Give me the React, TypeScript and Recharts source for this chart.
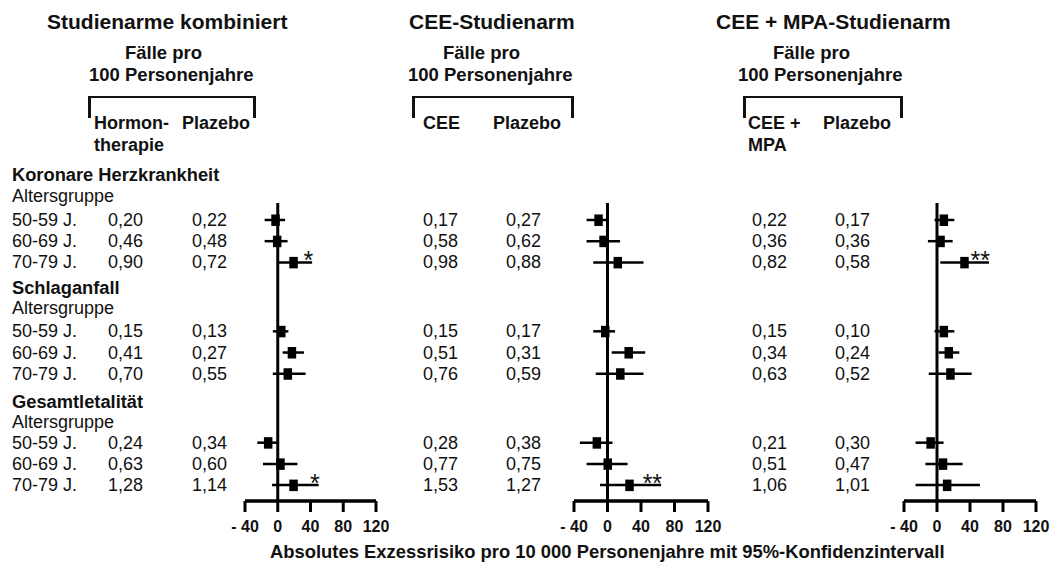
import { ErrorBar, ReferenceLine, Scatter, ScatterChart, XAxis, YAxis } from "recharts";

const outcomes = ["Koronare Herzkrankheit", "Schlaganfall", "Gesamtletalität"];
const ageGroups = ["50-59 J.", "60-69 J.", "70-79 J."];
const rowPos = [0, 1, 2, 5.25, 6.25, 7.25, 10.5, 11.5, 12.5];
const xTicks = [-40, 0, 40, 80, 120];

// Studienarme kombiniert
const ratesHT = ["0,20", "0,46", "0,90", "0,15", "0,41", "0,70", "0,24", "0,63", "1,28"];
const ratesPl1 = ["0,22", "0,48", "0,72", "0,13", "0,27", "0,55", "0,34", "0,60", "1,14"];
const est1 = [-3, -1, 19, 4, 17, 12, -12, 3, 19];
const lo1 = [-16, -16, 1, -6, 6, -6, -25, -18, -7];
const hi1 = [9, 12, 42, 13, 32, 34, -1, 24, 50];
const sig1 = ["", "", "*", "", "", "", "", "", "*"];

// CEE-Studienarm
const ratesCEE = ["0,17", "0,58", "0,98", "0,15", "0,51", "0,76", "0,28", "0,77", "1,53"];
const ratesPl2 = ["0,27", "0,62", "0,88", "0,17", "0,31", "0,59", "0,38", "0,75", "1,27"];
const est2 = [-11, -5, 12, -3, 25, 15, -13, 0, 26];
const lo2 = [-25, -25, -17, -17, 5, -14, -33, -25, -9];
const hi2 = [-1, 15, 43, 9, 45, 43, 6, 24, 64];
const sig2 = ["", "", "", "", "", "", "", "", "**"];

// CEE + MPA-Studienarm
const ratesCM = ["0,22", "0,36", "0,82", "0,15", "0,34", "0,63", "0,21", "0,51", "1,06"];
const ratesPl3 = ["0,17", "0,36", "0,58", "0,10", "0,24", "0,52", "0,30", "0,47", "1,01"];
const est3 = [8, 4, 33, 8, 14, 16, -8, 7, 12];
const lo3 = [-3, -11, 4, -3, 2, -10, -26, -14, -26];
const hi3 = [21, 19, 63, 21, 27, 42, 8, 31, 52];
const sig3 = ["", "", "**", "", "", "", "", "", ""];

const FONT = '"Liberation Sans", Arial, Helvetica, sans-serif';
const ROW0 = 220;
const ROW_H = 21.2;
const rowY = (r: number) => ROW0 + r * ROW_H;

function Txt({
  x,
  y,
  children,
  bold = false,
  size = 18,
}: {
  x: number;
  y: number;
  children: React.ReactNode;
  bold?: boolean;
  size?: number;
}) {
  return (
    <div
      style={{
        position: "absolute",
        left: x,
        top: y,
        transform: "translateY(-50%)",
        whiteSpace: "nowrap",
        fontFamily: FONT,
        fontSize: size,
        fontWeight: bold ? 700 : 400,
        lineHeight: 1,
        color: "#111",
      }}
    >
      {children}
    </div>
  );
}

function Bracket({ x1, x2 }: { x1: number; x2: number }) {
  return (
    <div
      style={{
        position: "absolute",
        left: x1,
        top: 96,
        width: x2 - x1,
        height: 22,
        boxSizing: "border-box",
        borderTop: "2.5px solid #111",
        borderLeft: "3.5px solid #111",
        borderRight: "3px solid #111",
      }}
    />
  );
}

const Box = (props: any) => {
  const { cx, cy } = props;
  if (cx == null || cy == null) return null;
  return <rect x={cx - 4} y={cy - 5.5} width={8.5} height={11.5} fill="#000" />;
};

const Star = (props: any) => {
  const { cx, cy, payload } = props;
  if (cx == null || cy == null) return null;
  return (
    <text x={cx + 1} y={cy + 7} textAnchor="end" fontFamily={FONT} fontSize={25} fill="#111">
      {payload.sig}
    </text>
  );
};

function Forest({
  left,
  axisWidth,
  est,
  lo,
  hi,
  sig,
}: {
  left: number;
  axisWidth: number;
  est: number[];
  lo: number[];
  hi: number[];
  sig: string[];
}) {
  const mL = 30;
  const mR = 19;
  const points = est.map((e, i) => ({ x: e, y: rowPos[i], err: [e - lo[i], hi[i] - e] }));
  const stars = sig
    .map((s, i) => ({ x: hi[i], y: rowPos[i], sig: s }))
    .filter((d) => d.sig !== "");
  return (
    <div style={{ position: "absolute", left: left - mL, top: 193 }}>
      <ScatterChart
        width={axisWidth + mL + mR}
        height={353}
        margin={{ top: 10, right: mR, bottom: 0, left: mL }}
      >
        <XAxis
          type="number"
          dataKey="x"
          domain={[-40, 120]}
          allowDataOverflow
          ticks={xTicks}
          interval={0}
          height={45}
          tickSize={11}
          tickMargin={9}
          axisLine={{ stroke: "#000", strokeWidth: 3.5 }}
          tickLine={{ stroke: "#000", strokeWidth: 3 }}
          tick={{ fill: "#111", fontSize: 16, fontWeight: 700, fontFamily: FONT }}
          tickFormatter={(v: number) => (v < 0 ? `- ${-v}` : `${v}`)}
        />
        <YAxis
          type="number"
          dataKey="y"
          domain={[-0.8, 13.25]}
          allowDataOverflow
          reversed
          hide
          width={0}
        />
        <ReferenceLine x={0} stroke="#000" strokeWidth={3} />
        <Scatter data={points} shape={<Box />} isAnimationActive={false}>
          <ErrorBar dataKey="err" direction="x" width={0} stroke="#000" strokeWidth={2.5} />
        </Scatter>
        <Scatter data={stars} shape={<Star />} isAnimationActive={false} />
      </ScatterChart>
    </div>
  );
}

function RowTexts({ a, b, xa, xb }: { a: string[]; b: string[]; xa: number; xb: number }) {
  return (
    <>
      {rowPos.map((r, i) => (
        <Txt key={`a${i}`} x={xa} y={rowY(r)}>
          {a[i]}
        </Txt>
      ))}
      {rowPos.map((r, i) => (
        <Txt key={`b${i}`} x={xb} y={rowY(r)}>
          {b[i]}
        </Txt>
      ))}
    </>
  );
}

const groupHead = [-2.1, 3.2, 8.6];

export default function App() {
  return (
    <div
      style={{
        position: "absolute",
        left: 0,
        top: 0,
        width: 1055,
        height: 563,
        overflow: "hidden",
        background: "#fff",
      }}
    >
      {/* panel headings */}
      <Txt x={47} y={21} bold size={21}>Studienarme kombiniert</Txt>
      <Txt x={409} y={21} bold size={21}>CEE-Studienarm</Txt>
      <Txt x={716} y={21} bold size={21}>CEE + MPA-Studienarm</Txt>

      {[
        [125, 89],
        [443, 408],
        [773, 738],
      ].map(([a, b], i) => (
        <div key={i}>
          <Txt x={a} y={53} bold size={18.5}>Fälle pro</Txt>
          <Txt x={b} y={75} bold size={18.5}>100 Personenjahre</Txt>
        </div>
      ))}

      <Bracket x1={88} x2={256} />
      <Bracket x1={412} x2={574} />
      <Bracket x1={743} x2={903} />

      <Txt x={94} y={123} bold size={18}>Hormon-</Txt>
      <Txt x={94} y={145} bold size={18}>therapie</Txt>
      <Txt x={182} y={123} bold size={18}>Plazebo</Txt>
      <Txt x={423} y={123} bold size={18}>CEE</Txt>
      <Txt x={493} y={123} bold size={18}>Plazebo</Txt>
      <Txt x={748} y={123} bold size={18}>CEE +</Txt>
      <Txt x={748} y={145} bold size={18}>MPA</Txt>
      <Txt x={823} y={123} bold size={18}>Plazebo</Txt>

      {/* row labels */}
      {outcomes.map((o, g) => (
        <div key={o}>
          <Txt x={12} y={rowY(groupHead[g])} bold size={18.3}>{o}</Txt>
          <Txt x={12} y={rowY(groupHead[g] + 0.95)}>Altersgruppe</Txt>
          {ageGroups.map((ag, k) => (
            <Txt key={ag} x={12} y={rowY(rowPos[g * 3 + k])}>{ag}</Txt>
          ))}
        </div>
      ))}

      <RowTexts a={ratesHT} b={ratesPl1} xa={108} xb={192} />
      <RowTexts a={ratesCEE} b={ratesPl2} xa={423} xb={506} />
      <RowTexts a={ratesCM} b={ratesPl3} xa={752} xb={835} />

      <Forest left={245} axisWidth={131} est={est1} lo={lo1} hi={hi1} sig={sig1} />
      <Forest left={574} axisWidth={134} est={est2} lo={lo2} hi={hi2} sig={sig2} />
      <Forest left={904} axisWidth={132} est={est3} lo={lo3} hi={hi3} sig={sig3} />

      <Txt x={270} y={552} bold size={18.4}>
        Absolutes Exzessrisiko pro 10 000 Personenjahre mit 95%-Konfidenzintervall
      </Txt>
    </div>
  );
}
